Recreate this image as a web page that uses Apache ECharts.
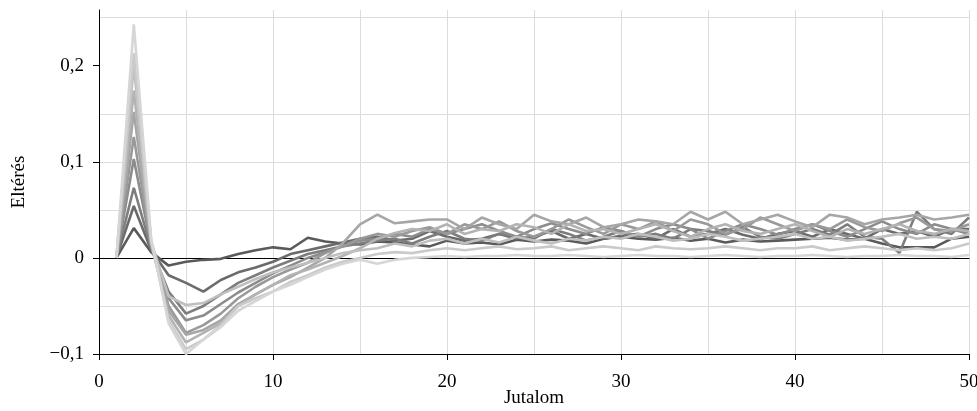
<!DOCTYPE html>
<html>
<head>
<meta charset="utf-8">
<script src="https://cdn.jsdelivr.net/npm/echarts@6/dist/echarts.min.js"></script>
<style>
  html, body { margin: 0; padding: 0; background: #fff; }
  #chart { width: 977px; height: 411px; }
</style>
</head>
<body>
<div id="chart"></div>
<script>
// jutalom (x)
const rewards = [1, 2, 3, 4, 5, 6, 7, 8, 9, 10, 11, 12, 13, 14, 15, 16, 17, 18, 19, 20,
  21, 22, 23, 24, 25, 26, 27, 28, 29, 30, 31, 32, 33, 34, 35, 36, 37, 38, 39, 40,
  41, 42, 43, 44, 45, 46, 47, 48, 49, 50]

// eltérés görbék, sötéttől világosig
const s0 = [0, 0.031, 0.006, -0.008, -0.004, -0.002, -0.001, 0.004, 0.008, 0.011, 0.009, 0.021, 0.017, 0.015, 0.014, 0.017, 0.016, 0.014, 0.012, 0.018,
  0.015, 0.016, 0.014, 0.019, 0.017, 0.019, 0.018, 0.015, 0.020, 0.022, 0.020, 0.019, 0.021, 0.018, 0.020, 0.016, 0.019, 0.017, 0.018, 0.019,
  0.020, 0.021, 0.019, 0.020, 0.015, 0.011, 0.011, 0.011, 0.020, 0.022]
const s1 = [0, 0.054, 0.008, -0.018, -0.026, -0.035, -0.023, -0.015, -0.010, -0.004, 0.004, 0.008, 0.012, 0.016, 0.020, 0.022, 0.018, 0.020, 0.028, 0.022,
  0.018, 0.020, 0.025, 0.020, 0.022, 0.028, 0.020, 0.025, 0.020, 0.023, 0.025, 0.020, 0.030, 0.022, 0.025, 0.030, 0.024, 0.020, 0.025, 0.028,
  0.022, 0.030, 0.025, 0.020, 0.030, 0.025, 0.028, 0.022, 0.030, 0.030]
const s2 = [0, 0.073, 0.010, -0.035, -0.058, -0.050, -0.038, -0.026, -0.018, -0.010, -0.003, 0.004, 0.008, 0.012, 0.015, 0.018, 0.020, 0.015, 0.022, 0.028,
  0.020, 0.018, 0.025, 0.022, 0.020, 0.030, 0.025, 0.018, 0.022, 0.028, 0.022, 0.025, 0.020, 0.030, 0.028, 0.024, 0.032, 0.022, 0.020, 0.025,
  0.030, 0.024, 0.035, 0.022, 0.020, 0.005, 0.048, 0.030, 0.025, 0.042]
const s3 = [0, 0.103, 0.012, -0.042, -0.065, -0.060, -0.048, -0.036, -0.026, -0.016, -0.008, 0.000, 0.006, 0.012, 0.018, 0.020, 0.025, 0.022, 0.030, 0.025,
  0.030, 0.035, 0.028, 0.022, 0.030, 0.036, 0.030, 0.025, 0.032, 0.028, 0.022, 0.030, 0.035, 0.030, 0.020, 0.028, 0.035, 0.030, 0.024, 0.030,
  0.035, 0.028, 0.022, 0.030, 0.038, 0.030, 0.025, 0.035, 0.030, 0.025]
const s4 = [0, 0.126, 0.013, -0.050, -0.078, -0.070, -0.058, -0.042, -0.030, -0.020, -0.012, -0.005, 0.005, 0.012, 0.020, 0.025, 0.022, 0.028, 0.032, 0.025,
  0.035, 0.030, 0.038, 0.028, 0.022, 0.030, 0.040, 0.032, 0.025, 0.035, 0.030, 0.038, 0.028, 0.040, 0.035, 0.025, 0.030, 0.042, 0.035, 0.028,
  0.035, 0.030, 0.040, 0.032, 0.028, 0.036, 0.042, 0.030, 0.028, 0.035]
const s5 = [0, 0.152, 0.014, -0.055, -0.080, -0.075, -0.065, -0.048, -0.038, -0.028, -0.020, -0.010, 0.000, 0.015, 0.035, 0.045, 0.036, 0.038, 0.040, 0.040,
  0.030, 0.042, 0.035, 0.030, 0.045, 0.038, 0.035, 0.042, 0.032, 0.035, 0.040, 0.038, 0.035, 0.048, 0.040, 0.048, 0.035, 0.040, 0.045, 0.038,
  0.032, 0.045, 0.042, 0.035, 0.040, 0.042, 0.045, 0.040, 0.042, 0.045]
const s6 = [0, 0.174, 0.016, -0.060, -0.088, -0.078, -0.068, -0.050, -0.038, -0.028, -0.018, -0.012, -0.005, 0.002, 0.010, 0.020, 0.026, 0.030, 0.028, 0.035,
  0.025, 0.030, 0.028, 0.035, 0.032, 0.025, 0.035, 0.028, 0.030, 0.025, 0.030, 0.035, 0.028, 0.022, 0.030, 0.035, 0.028, 0.025, 0.030, 0.035,
  0.028, 0.022, 0.030, 0.025, 0.030, 0.035, 0.028, 0.025, 0.030, 0.028]
const s7 = [0, 0.200, 0.017, -0.040, -0.049, -0.047, -0.038, -0.030, -0.022, -0.015, -0.010, -0.005, 0.000, 0.005, 0.008, 0.010, 0.015, 0.012, 0.018, 0.020,
  0.015, 0.020, 0.016, 0.022, 0.018, 0.015, 0.020, 0.018, 0.022, 0.020, 0.025, 0.022, 0.018, 0.020, 0.025, 0.022, 0.018, 0.020, 0.022, 0.025,
  0.020, 0.022, 0.018, 0.020, 0.022, 0.025, 0.020, 0.022, 0.020, 0.025]
const s8 = [0, 0.213, 0.018, -0.065, -0.095, -0.085, -0.070, -0.050, -0.042, -0.035, -0.025, -0.018, -0.010, -0.004, 0.000, 0.004, 0.006, 0.005, 0.008, 0.010,
  0.008, 0.010, 0.012, 0.009, 0.010, 0.012, 0.008, 0.010, 0.012, 0.010, 0.008, 0.012, 0.010, 0.009, 0.010, 0.012, 0.010, 0.008, 0.010, 0.010,
  0.012, 0.008, 0.010, 0.012, 0.010, 0.008, 0.010, 0.008, 0.010, 0.015]
const s9 = [0, 0.243, 0.020, -0.068, -0.100, -0.085, -0.072, -0.055, -0.045, -0.035, -0.028, -0.020, -0.012, -0.006, -0.002, -0.006, -0.002, 0.000, 0.001, 0.002,
  0.001, 0.002, 0.002, 0.003, 0.002, 0.002, 0.003, 0.002, 0.001, 0.002, 0.003, 0.002, 0.002, 0.001, 0.002, 0.003, 0.002, 0.001, 0.002, 0.002,
  0.003, 0.002, 0.001, 0.002, 0.002, 0.003, 0.002, 0.002, 0.001, 0.003]

const curves = [s0, s1, s2, s3, s4, s5, s6, s7, s8, s9]
const shades = ['#5a5a5a', '#6b6b6b', '#7d7d7d', '#8c8c8c', '#999999', '#a6a6a6', '#b3b3b3', '#bfbfbf', '#cacaca', '#d6d6d6']

const xTicks = [0, 10, 20, 30, 40, 50]
const yTicks = [-0.1, 0, 0.1, 0.2]

const font = 'Liberation Serif'
const fmt = v => (v < 0 ? '\u2212' : '') + String(Math.abs(v)).replace('.', ',')
const grid = { color: '#dcdcdc', width: 1 }

const chart = echarts.init(document.getElementById('chart'))

const option = {
  animation: false,
  grid: { left: 99, right: 8, top: 10, bottom: 57, containLabel: false, outerBoundsMode: 'none' },
  xAxis: [{
    type: 'value',
    min: 0,
    max: 50,
    interval: 10,
    name: 'Jutalom',
    nameLocation: 'middle',
    nameGap: 35,
    nameMoveOverlap: false,
    nameTextStyle: { fontFamily: font, fontSize: 19, color: '#000' },
    axisLine: { onZero: false, lineStyle: { color: '#000', width: 1 } },
    axisTick: { show: true, length: 6, customValues: xTicks, lineStyle: { color: '#000' } },
    axisLabel: { customValues: xTicks, margin: 19, fontFamily: font, fontSize: 19, color: '#000', formatter: fmt },
    splitLine: { show: true, lineStyle: grid },
    minorTick: { show: false, splitNumber: 2 },
    minorSplitLine: { show: true, lineStyle: grid }
  }, {
    // nulla vonal
    type: 'value',
    min: 0,
    max: 50,
    position: 'bottom',
    axisLine: { show: true, onZero: true, lineStyle: { color: '#000', width: 1 } },
    axisTick: { show: false },
    axisLabel: { show: false },
    splitLine: { show: false }
  }],
  yAxis: {
    type: 'value',
    min: -0.1,
    max: 0.258,
    interval: 0.1,
    name: 'Eltérés',
    nameLocation: 'middle',
    nameGap: 70,
    nameMoveOverlap: false,
    nameTextStyle: { fontFamily: font, fontSize: 19, color: '#000' },
    axisLine: { show: true, lineStyle: { color: '#000', width: 1 } },
    axisTick: { show: true, length: 6, customValues: yTicks, lineStyle: { color: '#000' } },
    axisLabel: { customValues: yTicks, margin: 15, fontFamily: font, fontSize: 19, color: '#000', formatter: fmt },
    splitLine: { show: true, showMaxLine: false, lineStyle: grid },
    minorTick: { show: false, splitNumber: 2 },
    minorSplitLine: { show: true, lineStyle: grid }
  },
  series: curves.map((vals, i) => ({
    type: 'line',
    name: 's' + i,
    xAxisIndex: 0,
    data: rewards.map((x, j) => [x, vals[j]]),
    showSymbol: false,
    symbol: 'none',
    lineStyle: { color: shades[i], width: 2.6 },
    z: 2 + i
  }))
}

chart.setOption(option)
</script>
</body>
</html>
